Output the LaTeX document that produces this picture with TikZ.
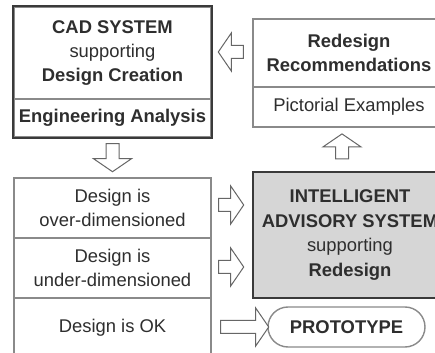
\documentclass[tikz,border=0pt]{standalone}
\usepackage{fontspec}
\setmainfont{Liberation Sans}
\usetikzlibrary{calc}

\definecolor{txt}{HTML}{2E2E2E}
\definecolor{frame}{HTML}{3A3A3A}
\definecolor{rule}{HTML}{8A8A8A}
\definecolor{ias}{HTML}{D6D6D6}

\begin{document}
\begin{tikzpicture}[x=0.5pt,y=-0.5pt,font=\fontsize{9.2}{12.2}\selectfont,
 cell/.style={draw=rule,line width=0.7pt,inner sep=0pt,align=center,text=txt,minimum width=98.5pt},
 heavy/.style={draw=frame,line width=1.1pt},
 arrowline/.style={draw=black!60,line width=0.5pt,fill=white,line join=miter},
 blockarrow/.pic={\path[arrowline] (0,-6.5) -- (#1-13,-6.5) -- (#1-13,-19) -- (#1,0)
   -- (#1-13,19) -- (#1-13,6.5) -- (0,6.5) -- cycle;}]
\clip (0,0) rectangle (435,353);
\useasboundingbox (0,0) rectangle (435,353);
\fill[white] (0,0) rectangle (435,353);
% CAD system, top left
\node[cell,minimum height=46pt] (cadtop) at (112.5,53) {\textbf{CAD SYSTEM}\\supporting\\\textbf{Design Creation}};
\node[cell,minimum height=19pt] (cadbot) at (112.5,118) {\textbf{Engineering Analysis}};
\draw[heavy] (cadtop.north west) rectangle (cadbot.south east);
% recommendations, top right
\node[cell,minimum width=96pt,minimum height=34pt] (redtop) at (349,53) {\textbf{Redesign}\\\textbf{Recommendations}};
\node[cell,minimum width=96pt,minimum height=20pt] (redbot) at (349,107) {Pictorial Examples};
% analysis outcomes, bottom left
\node[cell,minimum height=30pt] (over) at (112.5,208) {Design is\\over-dimensioned};
\node[cell,minimum height=30pt] (under) at (112.5,268) {Design is\\under-dimensioned};
\node[cell,minimum height=30pt] (ok) at (112.5,328) {Design is OK};
% advisory system and prototype
\node[cell,heavy,fill=ias,minimum width=97pt,minimum height=63pt] (ias) at (350,235)
  {\textbf{INTELLIGENT}\\\textbf{ADVISORY SYSTEM}\\supporting\\\textbf{Redesign}};
\node[cell,minimum width=78.5pt,minimum height=20pt,rounded corners=10pt] (proto) at (346.5,327) {\textbf{PROTOTYPE}};
% block arrows
\pic[rotate=-90] (dn) at ($(cadbot.south)+(0,6)$) {blockarrow=28};
\pic[rotate=90] (up) at ($(ias.north)+(-8,-12)$) {blockarrow=25};
\pic[rotate=180] (lt) at ($(redtop.west)+(-9,-1)$) {blockarrow=25};
\pic (r1) at ($(over.east)+(7,-3)$) {blockarrow=25};
\pic (r2) at ($(under.east)+(7,-1)$) {blockarrow=25};
\pic (r3) at ($(ok.east)+(9,-1)$) {blockarrow=48};
\end{tikzpicture}
\end{document}
